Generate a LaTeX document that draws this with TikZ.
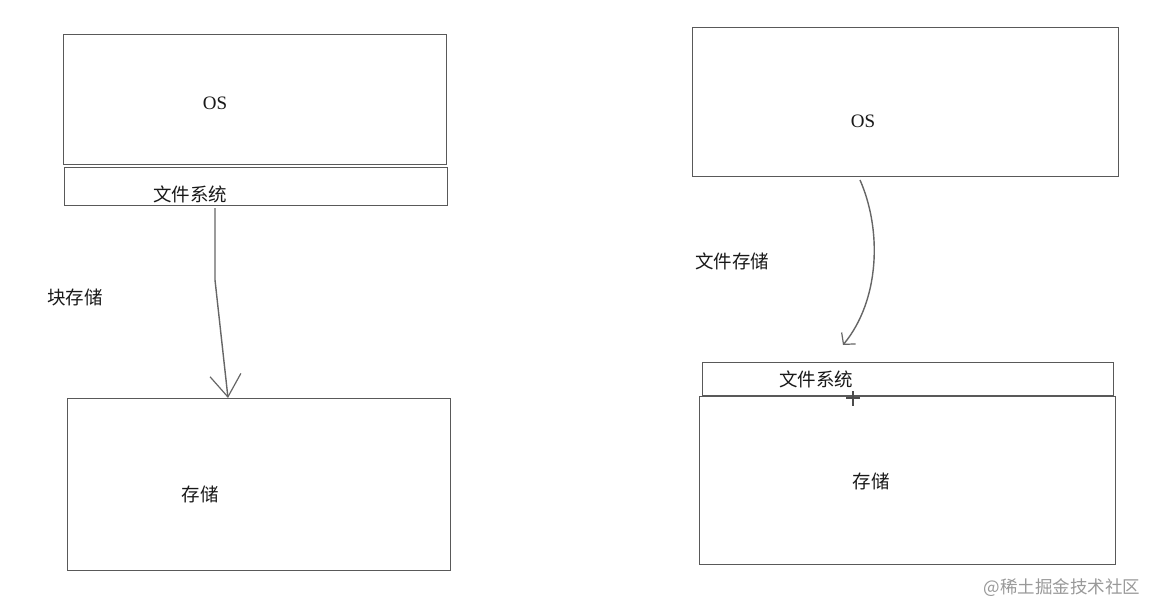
\documentclass[tikz,border=0pt]{standalone}
\usepackage{fontspec}
\setmainfont{Liberation Serif}
\newfontfamily\cjk{Noto Sans CJK SC}
\usetikzlibrary{arrows.meta,calc}
\begin{document}
\begin{tikzpicture}[x=1pt,y=-1pt,
  box/.style={draw=black!65, line width=1.4pt, inner sep=0pt, anchor=north west},
  lbl/.style={font=\cjk\fontsize{18.5}{20}\selectfont, text=black!90, inner sep=0pt},
  oslbl/.style={font=\fontsize{19}{21}\selectfont, text=black!90, inner sep=0pt},
  conn/.style={draw=black!60, line width=1.4pt}]
\fill[white] (0,0) rectangle (1160,616);
\useasboundingbox (0,0) rectangle (1160,616);
% left side
\node[box, minimum width=383pt, minimum height=130pt] (os1) at (63,34) {};
\node[box, minimum width=383pt, minimum height=38pt] (fs1) at (64,167) {};
\node[box, minimum width=383pt, minimum height=172pt] (st1) at (67,398) {};
\node[oslbl] (os1t) at (215,103) {OS};
\node[lbl] (fs1t) at (190,194) {文件系统};
\node[lbl] (st1t) at (200,494) {存储};
\node[lbl] (blk) at (75,297) {块存储};
\coordinate (a1s) at (215,208);
\coordinate (a1e) at (228,398);
\draw[conn, -{Straight Barb[length=22pt,width=31pt,line width=1.2pt]}] (a1s) -- (215,280) -- (a1e);
% right side
\node[box, minimum width=426pt, minimum height=149pt] (os2) at (692,27) {};
\node[box, minimum width=411pt, minimum height=33pt] (fs2) at (702,362) {};
\node[box, minimum width=416pt, minimum height=168pt] (st2) at (699,396) {};
\node[oslbl] (os2t) at (863,121) {OS};
\node[lbl] (fs2t) at (816,379) {文件系统};
\node[lbl] (st2t) at (871,481) {存储};
\node[lbl] (fst) at (732,261) {文件存储};
\coordinate (a2s) at (860,180);
\coordinate (a2e) at (843,345);
\draw[conn, -{Straight Barb[length=8pt,width=18pt,line width=1.2pt]}] (a2s) .. controls (882,230) and (880,300) .. (a2e);
% cursor cross
\coordinate (cur) at (853,398);
\draw[black!70, line width=1.2pt] ($(cur)+(-7,0)$) -- ($(cur)+(7,0)$) ($(cur)+(0,-7)$) -- ($(cur)+(0,8)$);
% watermark
\node[font=\cjk\fontsize{17.5}{19}\selectfont, text=black!40, inner sep=0pt] (wm) at (1062,588) {@稀土掘金技术社区};
\end{tikzpicture}
\end{document}
